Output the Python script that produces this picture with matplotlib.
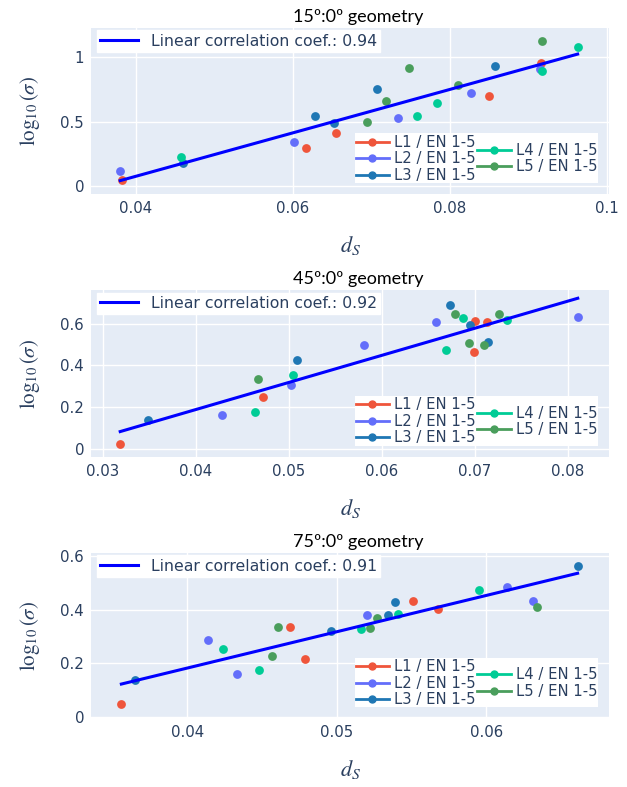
import matplotlib
matplotlib.use("Agg")
import matplotlib.pyplot as plt
from matplotlib.lines import Line2D
from matplotlib.patches import Rectangle
import numpy as np

# ---- data ----
titles = ["15º:0º geometry", "45º:0º geometry", "75º:0º geometry"]
coefs = ["0.94", "0.92", "0.91"]
series_names = ["L1 / EN 1-5", "L2 / EN 1-5", "L3 / EN 1-5", "L4 / EN 1-5", "L5 / EN 1-5"]

# 15:0 geometry
g15_x = [
    [0.0382, 0.0617, 0.0655, 0.0850, 0.0916],
    [0.0380, 0.0601, 0.0734, 0.0827, 0.0915],
    [0.0460, 0.0628, 0.0652, 0.0707, 0.0858],
    [0.0457, 0.0758, 0.0784, 0.0917, 0.0963],
    [0.0695, 0.0719, 0.0748, 0.0811, 0.0917],
]
g15_y = [
    [0.044, 0.294, 0.408, 0.701, 0.958],
    [0.117, 0.340, 0.527, 0.725, 0.914],
    [0.174, 0.540, 0.488, 0.758, 0.930],
    [0.226, 0.543, 0.642, 0.896, 1.083],
    [0.494, 0.657, 0.919, 0.784, 1.130],
]

# 45:0 geometry
g45_x = [
    [0.0319, 0.0473, 0.0700, 0.0713, 0.0699],
    [0.0429, 0.0503, 0.0581, 0.0659, 0.0811],
    [0.0349, 0.0509, 0.0674, 0.0695, 0.0714],
    [0.0464, 0.0505, 0.0669, 0.0688, 0.0735],
    [0.0467, 0.0679, 0.0694, 0.0710, 0.0726],
]
g45_y = [
    [0.021, 0.250, 0.613, 0.608, 0.465],
    [0.162, 0.305, 0.498, 0.606, 0.634],
    [0.139, 0.426, 0.692, 0.592, 0.511],
    [0.178, 0.355, 0.473, 0.627, 0.619],
    [0.334, 0.647, 0.506, 0.498, 0.645],
]

# 75:0 geometry
g75_x = [
    [0.0356, 0.0469, 0.0479, 0.0551, 0.0568],
    [0.0414, 0.0433, 0.0520, 0.0614, 0.0631],
    [0.0365, 0.0496, 0.0534, 0.0539, 0.0661],
    [0.0424, 0.0448, 0.0516, 0.0541, 0.0595],
    [0.0457, 0.0461, 0.0522, 0.0527, 0.0634],
]
g75_y = [
    [0.047, 0.335, 0.215, 0.433, 0.404],
    [0.288, 0.158, 0.380, 0.483, 0.432],
    [0.138, 0.319, 0.381, 0.430, 0.562],
    [0.252, 0.173, 0.327, 0.383, 0.472],
    [0.226, 0.335, 0.331, 0.370, 0.410],
]

xlims = [(0.03428, 0.1003), (0.02876, 0.08446), (0.03357, 0.0682)]
ylims = [(-0.065, 1.23), (-0.0405, 0.762), (-0.005, 0.612)]
xticks = [[0.04, 0.06, 0.08, 0.1], [0.03, 0.04, 0.05, 0.06, 0.07, 0.08], [0.04, 0.05, 0.06]]
xticklabels = [["0.04", "0.06", "0.08", "0.1"],
               ["0.03", "0.04", "0.05", "0.06", "0.07", "0.08"],
               ["0.04", "0.05", "0.06"]]
yticks = [[0, 0.5, 1], [0, 0.2, 0.4, 0.6], [0, 0.2, 0.4, 0.6]]
yticklabels = [["0", "0.5", "1"], ["0", "0.2", "0.4", "0.6"], ["0", "0.2", "0.4", "0.6"]]

colors = ["#EF553B", "#636EFA", "#1F77B4", "#00CC96", "#4A9E5C"]
bg = "#E5ECF6"
txt = "#2A3F5F"

plt.rcParams["mathtext.fontset"] = "stix"

fig = plt.figure(figsize=(6.27, 7.87), dpi=100)
W, H = 627, 787
# (top, bottom) of each plot area in pixels
rows = [(28, 194), (290, 457), (553, 718)]
left, right = 91, 609

all_x = [g15_x, g45_x, g75_x]
all_y = [g15_y, g45_y, g75_y]

for i in range(3):
    top, bot = rows[i]
    ax = fig.add_axes([left / W, 1 - bot / H, (right - left) / W, (bot - top) / H])
    ax.set_facecolor(bg)
    for s in ax.spines.values():
        s.set_visible(False)
    ax.grid(True, color="white", linewidth=1.0)
    ax.set_axisbelow(True)

    for k in range(5):
        ax.scatter(all_x[i][k], all_y[i][k], s=40, color=colors[k], zorder=3, linewidths=0)

    # linear fit over all points
    xs = np.concatenate([np.array(v) for v in all_x[i]])
    ys = np.concatenate([np.array(v) for v in all_y[i]])
    p = np.polyfit(xs, ys, 1)
    fx = np.array([xs.min(), xs.max()])
    fit_line, = ax.plot(fx, np.polyval(p, fx), color="#0000FF", linewidth=2.2, zorder=4)

    ax.set_xlim(*xlims[i])
    ax.set_ylim(*ylims[i])
    ax.set_xticks(xticks[i])
    ax.set_xticklabels(xticklabels[i])
    ax.set_yticks(yticks[i])
    ax.set_yticklabels(yticklabels[i])
    ax.tick_params(length=0, labelsize=10.8, labelcolor=txt, pad=5)

    ax.set_title(titles[i], fontsize=13, family="Lato", pad=4, color="black", x=0.515)
    ax.set_xlabel(r"$d_S$", fontsize=16, color=txt, labelpad=13)
    ax.set_ylabel(r"$\log_{10}(\sigma)$", fontsize=15, color=txt, labelpad=13)

    leg1 = ax.legend([fit_line], ["Linear correlation coef.: " + coefs[i]],
                     loc="upper left", bbox_to_anchor=(0.012, 0.985), fontsize=11.3,
                     frameon=True, fancybox=False, framealpha=1, edgecolor="white",
                     handlelength=2.4, borderpad=0.2, borderaxespad=0, labelcolor=txt)
    ax.add_artist(leg1)

    # series legend: white box, first column L1-L3, second column L4-L5 set half a row lower
    ax.add_patch(Rectangle((0.509, 0.065), 0.47, 0.30, transform=ax.transAxes,
                           facecolor="white", edgecolor="none", zorder=5))
    handles = [Line2D([0], [0], color=c, marker="o", markersize=5, linewidth=2) for c in colors]
    legA = ax.legend(handles[:3], series_names[:3], loc="upper left",
                     bbox_to_anchor=(0.505, 0.374), fontsize=10.6, frameon=False,
                     handlelength=2.3, handletextpad=0.3, labelspacing=0.1,
                     borderpad=0.2, borderaxespad=0, labelcolor=txt)
    legA.set_zorder(6)
    ax.add_artist(legA)
    legB = ax.legend(handles[3:], series_names[3:], loc="upper left",
                     bbox_to_anchor=(0.74, 0.325), fontsize=10.6, frameon=False,
                     handlelength=2.3, handletextpad=0.3, labelspacing=0.1,
                     borderpad=0.2, borderaxespad=0, labelcolor=txt)
    legB.set_zorder(6)

fig.savefig("out.png", dpi=100)
